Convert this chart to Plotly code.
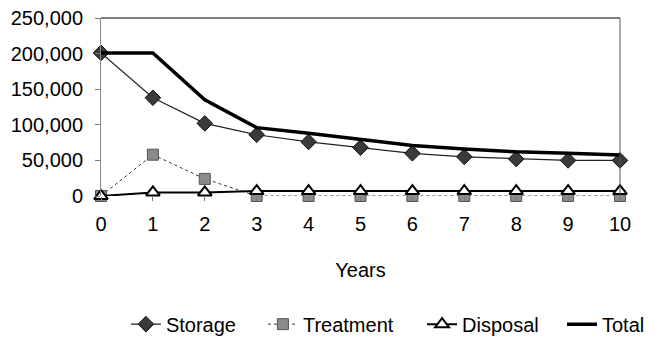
import plotly.graph_objects as go

# Waste volumes by year
years = [0, 1, 2, 3, 4, 5, 6, 7, 8, 9, 10]
storage = [201000, 138000, 102000, 86000, 76000, 68000, 60000, 55000, 52000, 50000, 50000]
treatment = [0, 58000, 24000, 0, 0, 0, 0, 0, 0, 0, 0]
disposal = [0, 5000, 5000, 7000, 7000, 7000, 7000, 7000, 7000, 7000, 7000]
total = [201000, 201000, 135000, 96000, 88000, 80000, 71000, 66000, 62000, 60000, 57500]

y_ticks = [0, 50000, 100000, 150000, 200000, 250000]

fig = go.Figure()

fig.add_trace(go.Scatter(
    x=years, y=storage, name="Storage", mode="lines+markers", legend="legend",
    line=dict(color="#222222", width=1.2),
    marker=dict(symbol="diamond", size=12, color="#3a3a3a",
                line=dict(color="#111111", width=1)),
    cliponaxis=False,
))
fig.add_trace(go.Scatter(
    x=years, y=treatment, name="Treatment", mode="lines+markers", legend="legend2",
    line=dict(color="#333333", width=1, dash="dot"),
    marker=dict(symbol="square", size=11, color="#8a8a8a",
                line=dict(color="#555555", width=1)),
    cliponaxis=False,
))
fig.add_trace(go.Scatter(
    x=years, y=disposal, name="Disposal", mode="lines+markers", legend="legend3",
    line=dict(color="black", width=2),
    marker=dict(symbol="triangle-up", size=12, color="white",
                line=dict(color="black", width=2)),
    cliponaxis=False,
))
fig.add_trace(go.Scatter(
    x=years, y=total, name="Total", mode="lines", legend="legend4",
    line=dict(color="black", width=3.5),
    cliponaxis=False,
))

font = dict(family="Liberation Sans, Arial, sans-serif", size=20, color="black")


def legend_at(x):
    return dict(orientation="h", x=x, xanchor="left", y=-0.72, yanchor="middle",
                font=font, bgcolor="rgba(0,0,0,0)")


fig.update_layout(
    width=660, height=341,
    margin=dict(l=101, r=40, t=18, b=145, autoexpand=False),
    paper_bgcolor="white", plot_bgcolor="white",
    font=font,
    showlegend=True,
    legend=legend_at(0.048),
    legend2=legend_at(0.312),
    legend3=legend_at(0.6186),
    legend4=legend_at(0.8882),
    xaxis=dict(
        range=[0, 10], tickmode="array", tickvals=years,
        ticktext=[str(v) for v in years],
        showgrid=False, zeroline=False, showline=False,
        ticks="outside", ticklen=4, tickcolor="#777777",
        ticklabelstandoff=6,
        title=dict(text="Years", font=font, standoff=28),
    ),
    yaxis=dict(
        range=[0, 250000], tickmode="array", tickvals=y_ticks,
        ticktext=[f"{v:,}" for v in y_ticks],
        showgrid=False, zeroline=False,
        showline=True, linecolor="#888888", linewidth=1,
        ticks="outside", ticklen=5, tickcolor="#777777",
        ticklabelstandoff=8,
    ),
    shapes=[
        dict(type="line", xref="x domain", yref="y domain", x0=0, x1=1, y0=1, y1=1,
             line=dict(color="black", width=1)),
        dict(type="line", xref="x domain", yref="y domain", x0=1, x1=1, y0=0, y1=1,
             line=dict(color="#555555", width=1)),
    ],
)

fig.write_html("out.html")
